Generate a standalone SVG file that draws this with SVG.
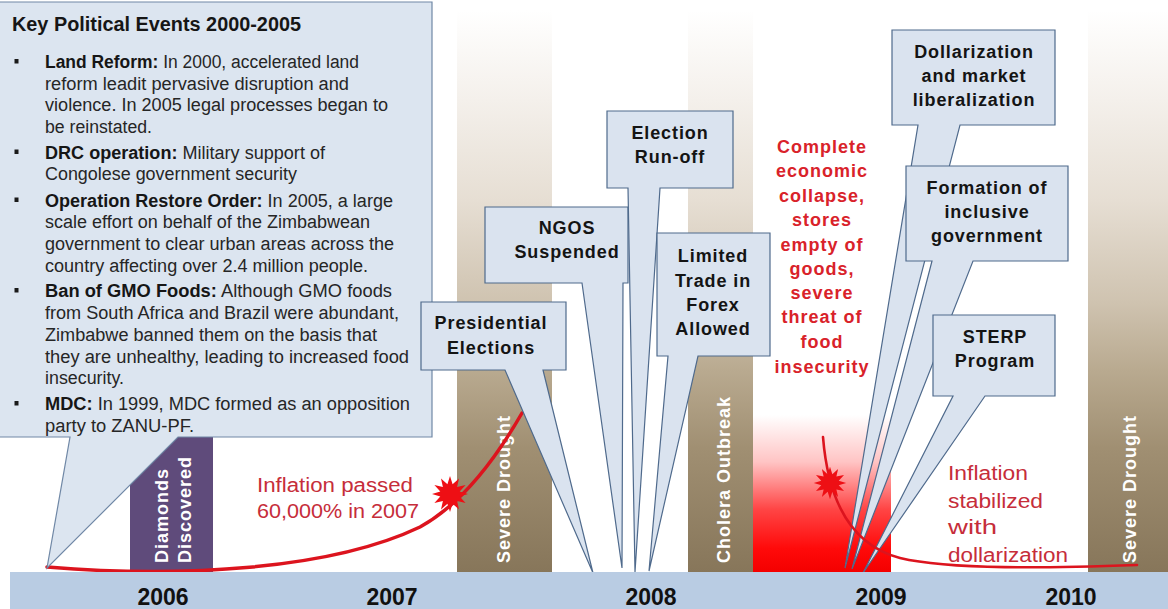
<svg xmlns="http://www.w3.org/2000/svg" width="1168" height="609" viewBox="0 0 1168 609">
  <style>
    .box { fill: #dae3ef; stroke: #4f6a8c; stroke-width: 1.2; stroke-linejoin: miter; }
    .key { fill: #dce5f0; stroke: #7088a6; stroke-width: 1.2; }
    .cl { font-family: "Liberation Sans", Arial, sans-serif; font-weight: bold; font-size: 18px; fill: #141414; text-anchor: middle; letter-spacing: 0.9px; }
    .alert { font-family: "Liberation Sans", Arial, sans-serif; font-weight: bold; font-size: 18px; fill: #d9222a; text-anchor: middle; letter-spacing: 1px; }
    .body { font-family: "Liberation Sans", Arial, sans-serif; font-size: 18px; fill: #262626; }
    .body tspan.b { font-weight: bold; fill: #161616; }
    .title { font-family: "Liberation Sans", Arial, sans-serif; font-weight: bold; font-size: 20px; fill: #161616; }
    .vt { font-family: "Liberation Sans", Arial, sans-serif; font-weight: bold; font-size: 18px; fill: #ffffff; letter-spacing: 1px; }
    .yr { font-family: "Liberation Sans", Arial, sans-serif; font-weight: bold; font-size: 23px; fill: #111111; text-anchor: middle; }
    .infl { font-family: "Liberation Sans", Arial, sans-serif; font-size: 20px; fill: #c62d3a; }
    .curve { fill: none; stroke: #dc141e; stroke-linecap: round; }
    .bullet { fill: #1a1a1a; }
  </style>
  <defs>
    <linearGradient id="drought" gradientUnits="userSpaceOnUse" x1="0" y1="10" x2="0" y2="572">
      <stop offset="0" stop-color="#ffffff"/>
      <stop offset="0.16" stop-color="#f4f0eb"/>
      <stop offset="0.34" stop-color="#e6ded3"/>
      <stop offset="0.52" stop-color="#cfc3b0"/>
      <stop offset="0.64" stop-color="#b9aa90"/>
      <stop offset="0.78" stop-color="#a08f72"/>
      <stop offset="1" stop-color="#87765a"/>
    </linearGradient>
    <linearGradient id="crisis" gradientUnits="userSpaceOnUse" x1="0" y1="415" x2="0" y2="572">
      <stop offset="0" stop-color="#ffffff"/>
      <stop offset="0.3" stop-color="#ffc4c4"/>
      <stop offset="0.6" stop-color="#ff4545"/>
      <stop offset="0.85" stop-color="#ff0a0a"/>
      <stop offset="1" stop-color="#f40000"/>
    </linearGradient>
    <!-- twelve-point explosion marker -->
    <polygon id="burst" fill="#ee0f14" points="18,0 9.7,2.6 15.6,9 7.1,7.1 9,15.6 2.6,9.7 0,18 -2.6,9.7 -9,15.6 -7.1,7.1 -15.6,9 -9.7,2.6 -18,0 -9.7,-2.6 -15.6,-9 -7.1,-7.1 -9,-15.6 -2.6,-9.7 0,-18 2.6,-9.7 9,-15.6 7.1,-7.1 15.6,-9 9.7,-2.6"/>
  </defs>

  <rect x="0" y="0" width="1168" height="609" fill="#ffffff"/>

  <!-- background period bands -->
  <g id="bands">
    <rect x="130" y="430" width="83" height="142" fill="#5f4b7b"/>
    <rect x="457" y="10" width="95" height="562" fill="url(#drought)"/>
    <rect x="688" y="12" width="65" height="560" fill="url(#drought)"/>
    <rect x="753" y="415" width="138" height="157" fill="url(#crisis)"/>
    <rect x="1088" y="12" width="80" height="560" fill="url(#drought)"/>
  </g>

  <g id="band-labels">
    <text class="vt" transform="translate(168,563) rotate(-90)">Diamonds</text>
    <text class="vt" transform="translate(191,563) rotate(-90)">Discovered</text>
    <text class="vt" transform="translate(510,563) rotate(-90)">Severe Drought</text>
    <text class="vt" transform="translate(730,563) rotate(-90)">Cholera Outbreak</text>
    <text class="vt" transform="translate(1136,563) rotate(-90)">Severe Drought</text>
  </g>

  <!-- inflation rise 2006-2008 -->
  <g id="inflation-rise">
    <path class="curve" stroke-width="3.5" d="M47,567 C180,578 330,570 420,527 C460,505 495,460 522,413"/>
    <use href="#burst" transform="translate(450,494)"/>
  </g>

  <!-- callouts -->
  <g id="key-events">
    <path class="key" d="M-2,2 H432 V437 H178 L47,568 L70,437 H-2 Z"/>
    <text class="title" x="12" y="31" textLength="289" lengthAdjust="spacingAndGlyphs">Key Political Events 2000-2005</text>
    <rect class="bullet" x="14.5" y="59" width="4" height="4.5"/>
    <text class="body" x="45" y="68" textLength="314" lengthAdjust="spacingAndGlyphs"><tspan class="b">Land Reform:</tspan> In 2000, accelerated land</text>
    <text class="body" x="45" y="89.7" textLength="304" lengthAdjust="spacingAndGlyphs">reform leadit pervasive disruption and</text>
    <text class="body" x="45" y="111.4" textLength="343" lengthAdjust="spacingAndGlyphs">violence. In 2005 legal processes began to</text>
    <text class="body" x="45" y="133" textLength="107" lengthAdjust="spacingAndGlyphs">be reinstated.</text>
    <rect class="bullet" x="14.5" y="149.5" width="4" height="4.5"/>
    <text class="body" x="45" y="158.5" textLength="280" lengthAdjust="spacingAndGlyphs"><tspan class="b">DRC operation:</tspan> Military support of</text>
    <text class="body" x="45" y="180" textLength="252" lengthAdjust="spacingAndGlyphs">Congolese government security</text>
    <rect class="bullet" x="14.5" y="197.5" width="4" height="4.5"/>
    <text class="body" x="45" y="206.5" textLength="348" lengthAdjust="spacingAndGlyphs"><tspan class="b">Operation Restore Order:</tspan> In 2005, a large</text>
    <text class="body" x="45" y="228" textLength="325" lengthAdjust="spacingAndGlyphs">scale effort on behalf of the Zimbabwean</text>
    <text class="body" x="45" y="250" textLength="349" lengthAdjust="spacingAndGlyphs">government to clear urban areas across the</text>
    <text class="body" x="45" y="272" textLength="323" lengthAdjust="spacingAndGlyphs">country affecting over 2.4 million people.</text>
    <rect class="bullet" x="14.5" y="288" width="4" height="4.5"/>
    <text class="body" x="45" y="297" textLength="347" lengthAdjust="spacingAndGlyphs"><tspan class="b">Ban of GMO Foods:</tspan> Although GMO foods</text>
    <text class="body" x="45" y="319" textLength="354" lengthAdjust="spacingAndGlyphs">from South Africa and Brazil were abundant,</text>
    <text class="body" x="45" y="341" textLength="332" lengthAdjust="spacingAndGlyphs">Zimbabwe banned them on the basis that</text>
    <text class="body" x="45" y="362.5" textLength="364" lengthAdjust="spacingAndGlyphs">they are unhealthy, leading to increased food</text>
    <text class="body" x="45" y="384" textLength="79" lengthAdjust="spacingAndGlyphs">insecurity.</text>
    <rect class="bullet" x="14.5" y="401" width="4" height="4.5"/>
    <text class="body" x="45" y="410" textLength="365" lengthAdjust="spacingAndGlyphs"><tspan class="b">MDC:</tspan> In 1999, MDC formed as an opposition</text>
    <text class="body" x="45" y="432" textLength="149" lengthAdjust="spacingAndGlyphs">party to  ZANU-PF.</text>
  </g>

  <g id="presidential-elections">
    <path class="box" d="M421,302 H566 V370 H543 L593,573 L505,370 H421 Z"/>
    <text class="cl" x="491" y="329">Presidential</text>
    <text class="cl" x="491" y="354">Elections</text>
  </g>

  <g id="ngos-suspended">
    <path class="box" d="M485,207 H628 V283 H623 L622,568 L582,283 H485 Z"/>
    <text class="cl" x="567" y="234">NGOS</text>
    <text class="cl" x="567" y="258">Suspended</text>
  </g>

  <g id="election-runoff">
    <path class="box" d="M607,111 H733 V188 H660 L635,572 L628,188 H607 Z"/>
    <text class="cl" x="670" y="139">Election</text>
    <text class="cl" x="670" y="163">Run-off</text>
  </g>

  <g id="forex-trade">
    <path class="box" d="M657,233 H770 V356 H698 L649,571 L668,356 H657 Z"/>
    <text class="cl" x="713" y="262">Limited</text>
    <text class="cl" x="713" y="287">Trade in</text>
    <text class="cl" x="713" y="311">Forex</text>
    <text class="cl" x="713" y="335">Allowed</text>
  </g>

  <g id="dollarization">
    <path class="box" d="M892,30 H1055 V125 H960 L845,568 L918,125 H892 Z"/>
    <text class="cl" x="974" y="58">Dollarization</text>
    <text class="cl" x="974" y="82">and market</text>
    <text class="cl" x="974" y="106">liberalization</text>
  </g>

  <g id="inclusive-government">
    <path class="box" d="M906,166 H1068 V261 H973 L852,569 L932,261 H906 Z"/>
    <text class="cl" x="987" y="194">Formation of</text>
    <text class="cl" x="987" y="218">inclusive</text>
    <text class="cl" x="987" y="242">government</text>
  </g>

  <g id="sterp-program">
    <path class="box" d="M933,315 H1055 V396 H985 L863,573 L953,396 H933 Z"/>
    <text class="cl" x="995" y="343">STERP</text>
    <text class="cl" x="995" y="367">Program</text>
  </g>

  <!-- inflation collapse 2009-2010 -->
  <g id="inflation-fall">
    <path class="curve" stroke-width="2.6" d="M823,437 C828,500 850,545 900,558 C950,570 1050,568 1137,565"/>
    <use href="#burst" transform="translate(830,483) scale(0.9)"/>
  </g>

  <!-- time axis -->
  <g id="axis">
    <rect x="10" y="572" width="1158" height="37" fill="#b9cce3"/>
    <text class="yr" x="163" y="605">2006</text>
    <text class="yr" x="392" y="605">2007</text>
    <text class="yr" x="651" y="605">2008</text>
    <text class="yr" x="881" y="605">2009</text>
    <text class="yr" x="1071" y="605">2010</text>
  </g>

  <g id="notes">
    <text class="infl" x="257" y="492" textLength="156" lengthAdjust="spacingAndGlyphs">Inflation passed</text>
    <text class="infl" x="257" y="518" textLength="162" lengthAdjust="spacingAndGlyphs">60,000% in 2007</text>
    <text class="infl" x="948" y="480" textLength="80" lengthAdjust="spacingAndGlyphs">Inflation</text>
    <text class="infl" x="948" y="507.5" textLength="95" lengthAdjust="spacingAndGlyphs">stabilized</text>
    <text class="infl" x="948" y="534" textLength="49" lengthAdjust="spacingAndGlyphs">with</text>
    <text class="infl" x="948" y="562" textLength="120" lengthAdjust="spacingAndGlyphs">dollarization</text>
    <text class="alert" x="822" y="153">Complete</text>
    <text class="alert" x="822" y="177">economic</text>
    <text class="alert" x="822" y="202">collapse,</text>
    <text class="alert" x="822" y="226">stores</text>
    <text class="alert" x="822" y="251">empty of</text>
    <text class="alert" x="822" y="275">goods,</text>
    <text class="alert" x="822" y="299">severe</text>
    <text class="alert" x="822" y="323">threat of</text>
    <text class="alert" x="822" y="348">food</text>
    <text class="alert" x="822" y="373">insecurity</text>
  </g>
</svg>
